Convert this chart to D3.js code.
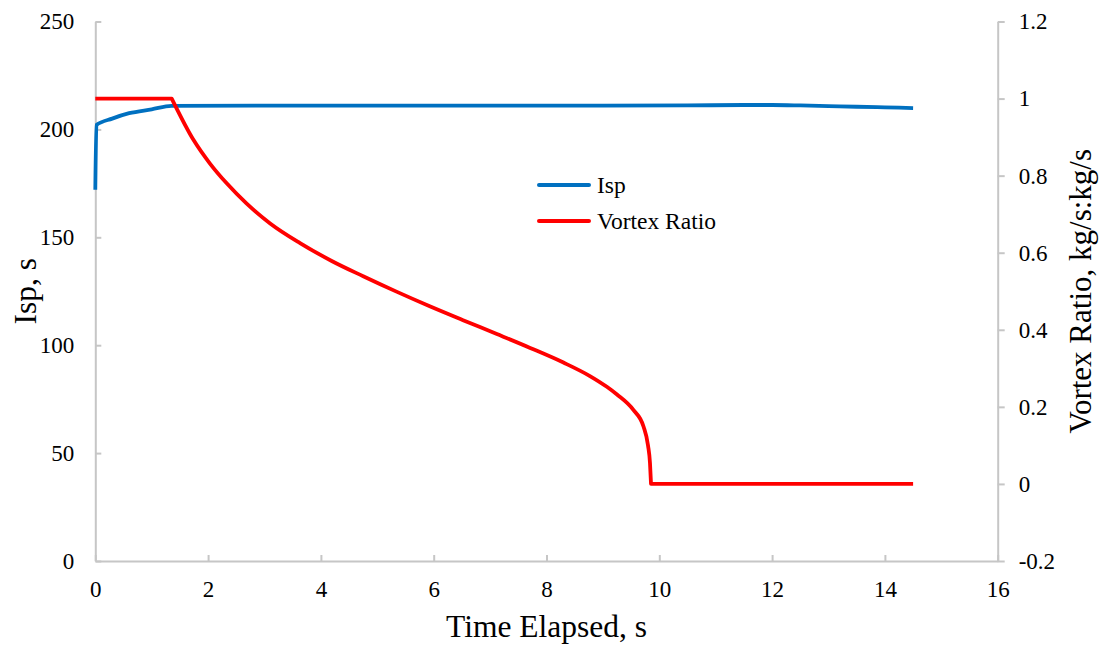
<!DOCTYPE html>
<html>
<head>
<meta charset="utf-8">
<script src="https://cdn.jsdelivr.net/npm/d3@7"></script>
<style>
  html, body { margin: 0; padding: 0; background: #fff; }
  svg { display: block; }
</style>
</head>
<body>
<svg id="chart" width="1101" height="645"></svg>
<script>
// ---- data ----
const xTicks = [0, 2, 4, 6, 8, 10, 12, 14, 16];
const leftTicks = [0, 50, 100, 150, 200, 250];
const rightTicks = [-0.2, 0, 0.2, 0.4, 0.6, 0.8, 1, 1.2];
const rightTickLabels = ["-0.2", "0", "0.2", "0.4", "0.6", "0.8", "1", "1.2"];

const timeIsp = [0, 0.02, 0.3, 0.6, 1.0, 1.35, 3, 6, 9, 10.5, 11.5, 12, 12.5, 13, 13.5, 14, 14.5];
const isp     = [172, 202, 205, 207.5, 209.3, 210.9, 211.0, 211.0, 211.0, 211.1, 211.3, 211.3, 211.1, 210.8, 210.5, 210.2, 209.9];

const timeVortex = [0, 1.355, 1.74, 2.03, 2.33, 2.68, 3.1, 3.63, 4.2, 4.75, 5.34, 5.93, 6.52, 7.12, 7.71, 8.3, 8.77, 9.07, 9.25, 9.54, 9.72, 9.8, 9.835, 9.853, 14.5];
const vortex     = [1, 1, 0.893, 0.832, 0.78, 0.728, 0.676, 0.625, 0.578, 0.539, 0.499, 0.461, 0.425, 0.389, 0.353, 0.315, 0.280, 0.252, 0.232, 0.192, 0.149, 0.100, 0.054, 0, 0];

const seriesNames = ["Isp", "Vortex Ratio"];
const seriesColors = ["#0070c0", "#ff0000"];

// ---- layout ----
const svg = d3.select("#chart");
const L = 95.3, R = 997.7, T = 21.5, B = 561;
const axisColor = "#c6c6c6";
const FONT = '"Liberation Serif"';

const x = d3.scaleLinear().domain([0, 16]).range([L, R]);
const yL = d3.scaleLinear().domain([0, 250]).range([B, T]);
const yR = d3.scaleLinear().domain([-0.2, 1.2]).range([B, T]);

function styleAxis(g) {
  g.attr("font-family", null).attr("font-size", null);
  g.select(".domain").attr("stroke", axisColor).attr("stroke-width", 2);
  g.selectAll(".tick line").attr("stroke", axisColor).attr("stroke-width", 2);
  g.selectAll(".tick text").style("font-family", FONT).style("font-size", "23px").attr("fill", "#000");
}

svg.append("g").attr("transform", `translate(0,${B})`)
  .call(d3.axisBottom(x).tickValues(xTicks).tickFormat(d => String(d)).tickSizeInner(-6).tickSizeOuter(0).tickPadding(20))
  .call(styleAxis);

svg.append("g").attr("transform", `translate(${L},0)`)
  .call(d3.axisLeft(yL).tickValues(leftTicks).tickFormat(d => String(d)).tickSizeInner(-6).tickSizeOuter(0).tickPadding(21))
  .call(styleAxis);

svg.append("g").attr("transform", `translate(${R},0)`)
  .call(d3.axisRight(yR).tickValues(rightTicks).tickFormat((d, i) => rightTickLabels[i]).tickSizeInner(7).tickSizeOuter(0).tickPadding(14))
  .call(styleAxis);

// ---- lines ----
const ispData = timeIsp.map((t, i) => [t, isp[i]]);
const vortexData = timeVortex.map((t, i) => [t, vortex[i]]);

const lineL = d3.line().x(d => x(d[0])).y(d => yL(d[1])).curve(d3.curveMonotoneX);
const lineR = d3.line().x(d => x(d[0])).y(d => yR(d[1])).curve(d3.curveMonotoneX);
const lineRlin = d3.line().x(d => x(d[0])).y(d => yR(d[1]));

svg.append("path").datum(ispData).attr("d", lineL)
  .attr("fill", "none").attr("stroke", seriesColors[0]).attr("stroke-width", 3.8).attr("stroke-linejoin", "round");

// vortex: flat part, smooth decay, flat tail (sharp corners kept)
const n = vortexData.length;
const vPath = lineRlin(vortexData.slice(0, 2)) + lineR(vortexData.slice(1, n - 1)).replace(/^M/, "L") + lineRlin(vortexData.slice(n - 2)).replace(/^M/, "L");
svg.append("path").attr("d", vPath)
  .attr("fill", "none").attr("stroke", seriesColors[1]).attr("stroke-width", 3.8).attr("stroke-linejoin", "round");

// ---- legend ----
const legend = svg.append("g");
const legY = [185, 221];
seriesNames.forEach((name, i) => {
  legend.append("line").attr("x1", 539).attr("x2", 589).attr("y1", legY[i]).attr("y2", legY[i])
    .attr("stroke", seriesColors[i]).attr("stroke-width", 4).attr("stroke-linecap", "round");
  legend.append("text").attr("x", 597).attr("y", legY[i] + 7.5)
    .style("font-family", FONT).style("font-size", "23.5px").attr("fill", "#000").text(name);
});

// ---- axis titles ----
svg.append("text").attr("x", (L + R) / 2).attr("y", 637).attr("text-anchor", "middle")
  .style("font-family", FONT).style("font-size", "31.5px").text("Time Elapsed, s");

svg.append("text").attr("transform", `translate(36,${(T + B) / 2}) rotate(-90)`).attr("text-anchor", "middle")
  .style("font-family", FONT).style("font-size", "31.5px").text("Isp, s");

svg.append("text").attr("transform", `translate(1091,${(T + B) / 2}) rotate(-90)`).attr("text-anchor", "middle")
  .style("font-family", FONT).style("font-size", "31px").text("Vortex Ratio, kg/s:kg/s");
</script>
</body>
</html>
